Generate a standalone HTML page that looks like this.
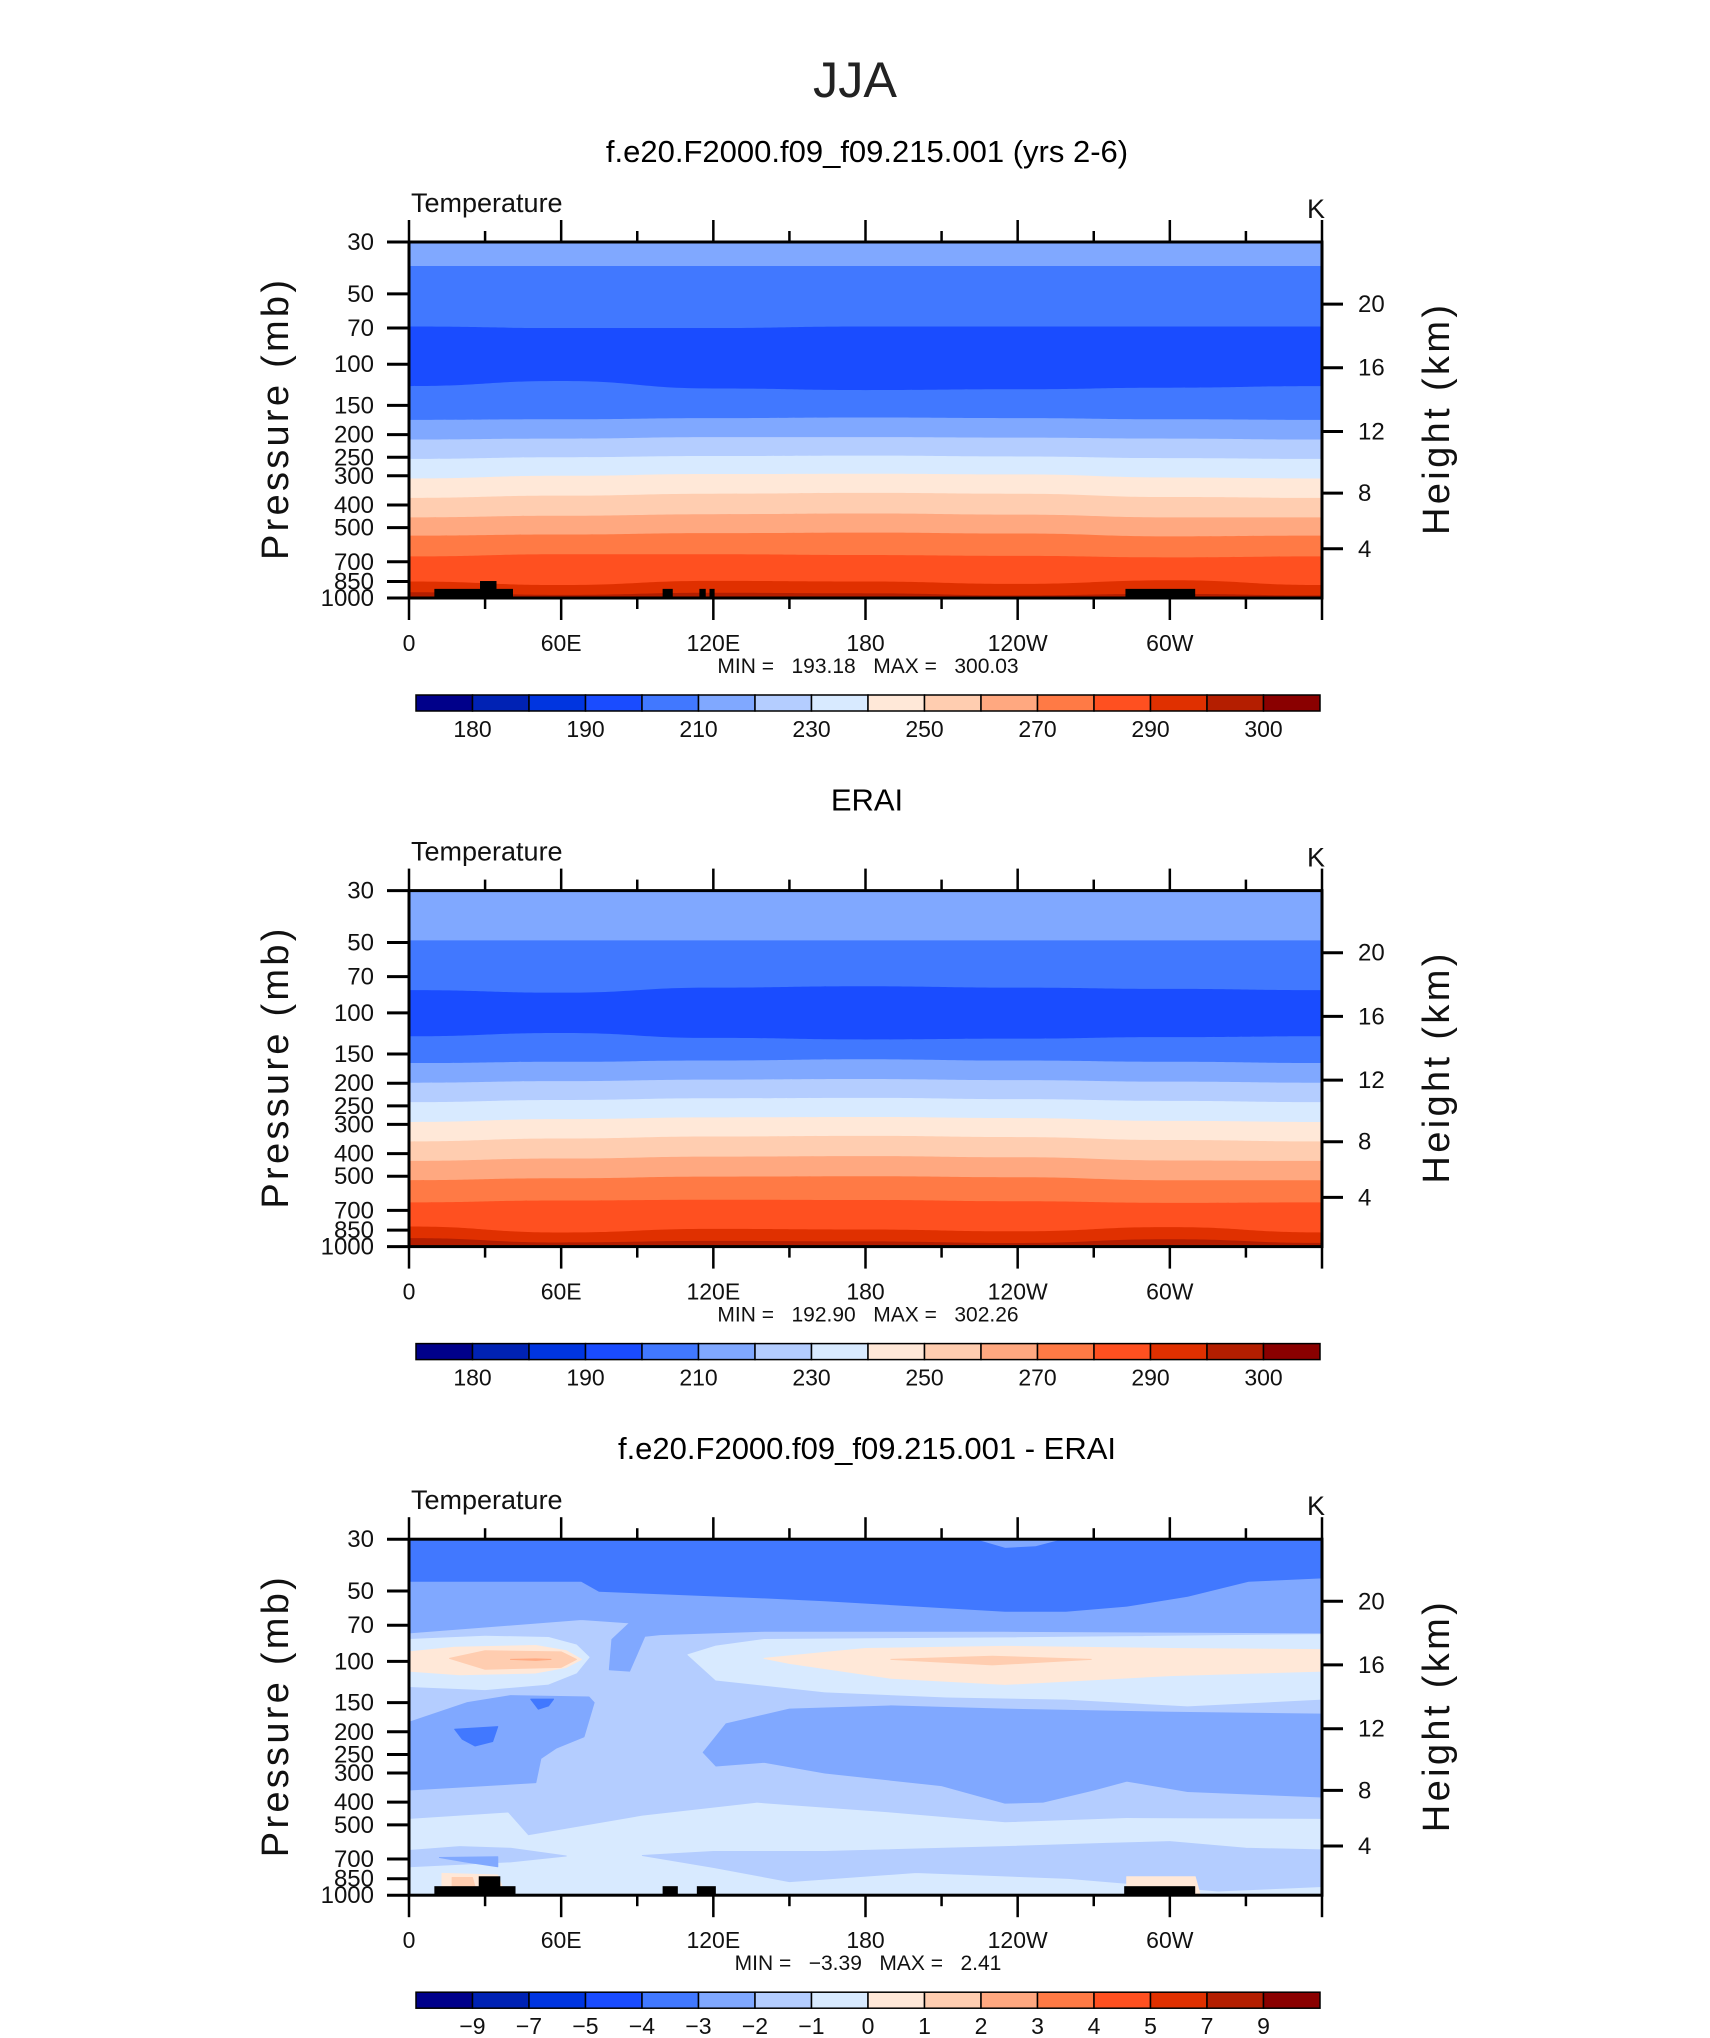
<!DOCTYPE html>
<html><head><meta charset="utf-8"><style>
html,body{margin:0;padding:0;background:#fff;}
svg{display:block;font-family:"Liberation Sans",sans-serif;}
</style></head><body>
<svg id="fig" width="1710" height="2038" viewBox="0 0 1710 2038" xmlns="http://www.w3.org/2000/svg">
<text x="855" y="97" text-anchor="middle" font-size="50" textLength="84" lengthAdjust="spacingAndGlyphs" fill="#222">JJA</text>
</svg>
<script>
// ---- data ----
const colors = ['#00008a','#0022b4','#0035e0','#1a4cff','#4178ff','#80a8ff','#b4cdff','#d8eaff','#ffe8d8','#ffcdb0','#ffa880','#ff7a45','#ff5020','#e03000','#b41e00','#8a0000'];
const tempLevels = ['180','190','210','230','250','270','290','300'];
const diffLevels = ['\u22129','\u22127','\u22125','\u22124','\u22123','\u22122','\u22121','0','1','2','3','4','5','7','9'];
const pressureTicks = [30,50,70,100,150,200,250,300,400,500,700,850,1000];
const heightLabels = [4,8,12,16,20];
const heightPressure = [616,356,194,103.5,55.3];
const lonNodes = [0,60,120,180,240,300,360];
const lonLabels = ['0','60E','120E','180','120W','60W'];
const bandColorIdx = [5,4,3,4,5,6,7,8,9,10,11,12,13,14];
const model_bounds = [
 [38,38,38,38,38,38,38],[69,70,70,69,69,69,69],[124,118,127,129,128,126,124],
 [173,172,170,169,170,172,173],[210,208,205,205,206,208,210],[254,250,247,246,248,252,254],
 [308,300,295,294,296,305,308],[373,365,358,355,358,370,373],[452,445,438,435,440,452,452],
 [541,535,528,525,530,545,541],[664,650,650,655,660,670,664],[850,880,845,850,870,840,880],
 [945,970,950,955,975,960,975]];
const erai_bounds = [
 [49,49,49,49,49,49,49],[80,82,78,77,78,79,80],[126,122,128,130,129,127,126],
 [164,162,160,158,160,162,164],[199,196,193,192,194,197,199],[241,236,232,231,234,238,241],
 [293,285,280,279,282,290,293],[355,345,338,336,340,350,355],[430,420,412,410,415,428,430],
 [520,510,502,500,505,520,520],[647,635,630,632,640,650,647],[820,870,840,845,860,825,870],
 [920,960,945,950,965,930,965]];
const topoModel = [[10,41,914],[28,34.5,846],[100,104,914],[114.5,117,914],[118.5,120.5,914],[282.5,310,914]];
const topoDiff = [[10,42,915],[27.5,36,830],[100,106,915],[113.5,121,915],[282,310,915]];
const diffBaseIdx = 6;
const diffRegions = [
 [5,[[0,30],[360,30],[360,75.5],[235,74.3],[140,74.3],[99,76.8],[93,78],[87,110],[79,108.5],[80,80.6],[87,68.4],[68,66.2],[0,75.5]]],
 [4,[[0,30],[360,30],[360,43.9],[331,45.4],[307,52.6],[283,58],[259,61],[235,61],[164,55],[140,53.5],[75,50.1],[68,45.4],[0,45.4]]],
 [5,[[224,30],[257,30],[247,32],[235,32.5]]],
 [7,[[0,80.6],[30,78],[55,79],[66,85],[71,96],[66,112],[55,125],[30,132],[0,128]]],
 [7,[[110,93.6],[121,86],[140,80.6],[235,79.3],[360,76.8],[360,145],[307,155],[259,145],[212,142],[164,135],[121,120]]],
 [7,[[0,474],[39,445],[47,557],[92,459],[137,404],[190,445],[235,490],[283,470],[360,474],[360,1000],[0,1000]]],
 [8,[[0,91],[18,87],[50,85.5],[62,90],[68,98],[62,106],[50,112],[20,114],[0,110]]],
 [8,[[140,97],[180,88],[235,86.2],[300,88],[360,89],[360,110],[300,115],[235,125.4],[190,118],[150,102]]],
 [9,[[16,97],[30,90],[60,91],[66,98],[60,106],[30,108]]],
 [9,[[190,98],[230,95],[269,98],[230,103.5]]],
 [10,[[40,98],[50,97.5],[56,98],[50,99]]],
 [5,[[0,182],[23,150],[40,140],[71,142],[73,150],[69,210],[58,235],[52,260],[50,330],[0,355]]],
 [5,[[116,245],[125,185],[150,160],[190,155],[235,160],[300,165],[360,168],[360,380],[307,360],[283,325],[270,355],[250,400],[235,404],[210,340],[164,300],[140,270],[121,280]]],
 [4,[[48,145],[57,145],[55,155],[51,160]]],
 [4,[[18,195],[35,190],[33,220],[26,230],[21,215]]],
 [6,[[0,644],[20,620],[40,630],[62,680],[40,720],[0,756]]],
 [6,[[92,676],[120,650],[164,650],[235,620],[275,600],[300,590],[330,630],[360,640],[360,918],[319,960],[260,847],[200,800],[150,875],[120,760]]],
 [5,[[12,690],[35,685],[35,756],[22,720]]],
 [8,[[13,807],[35,820],[38,1000],[13,1000]]],
 [8,[[283,834],[310,834],[312,1000],[283,1000]]],
 [9,[[17,840],[25,840],[27,1000],[17,1000]]]
];
const panelTitles = ['f.e20.F2000.f09_f09.215.001 (yrs 2-6)','ERAI','f.e20.F2000.f09_f09.215.001 - ERAI'];
const panelMin = ['193.18','192.90','\u22123.39'];
const panelMax = ['300.03','302.26','2.41'];

// ---- layout ----
const svg = document.getElementById('fig');
const NS = 'http://www.w3.org/2000/svg';
const L = 409, R = 1322, W = R - L, H = 356, DY = 648.6, TOP0 = 242;
function mk(tag, attrs, parent){ const e = document.createElementNS(NS, tag); for (const k in attrs) e.setAttribute(k, attrs[k]); (parent||svg).appendChild(e); return e; }
function xs(lon){ return L + W * lon / 360; }
function ysF(top){ return p => top + H * Math.log10(p / 30) / Math.log10(1000 / 30); }

function drawPanel(i){
  const top = TOP0 + DY * i, ys = ysF(top);
  const g = mk('g', {});
  
  
  const cp = mk('clipPath', {id: 'clip' + i}, g);
  mk('rect', {x: L, y: top, width: W, height: H}, cp);
  const plot = mk('g', {'clip-path': 'url(#clip' + i + ')'}, g);
  
  
  if (i < 2) {
    const bounds = i === 0 ? model_bounds : erai_bounds;
    const bg = mk('rect', {x: L, y: top, width: W, height: H, fill: colors[bandColorIdx[0]]}, plot);
    
    for (let b = 0; b < bounds.length; b++) {
      let d = 'M' + xs(lonNodes[0]) + ' ' + ys(bounds[b][0]);
      for (let k = 1; k < lonNodes.length; k++) {
        const x0 = xs(lonNodes[k-1]), x1 = xs(lonNodes[k]), y0 = ys(bounds[b][k-1]), y1 = ys(bounds[b][k]);
        d += ' C' + (x0 + (x1-x0)/2) + ' ' + y0 + ' ' + (x0 + (x1-x0)/2) + ' ' + y1 + ' ' + x1 + ' ' + y1;
      }
      d += ' L' + R + ' ' + (top + H + 5) + ' L' + L + ' ' + (top + H + 5) + 'Z';
      const p = mk('path', {d: d, fill: colors[bandColorIdx[b+1]]}, plot);
      
      
    }
  } else {
    const bg = mk('rect', {x: L, y: top, width: W, height: H, fill: colors[diffBaseIdx]}, plot);
    
    diffRegions.forEach(r => {
      const pts = r[1].map(q => xs(q[0]) + ',' + ys(q[1])).join(' ');
      const p = mk('polygon', {points: pts, fill: colors[r[0]], stroke: colors[r[0]], 'stroke-width': 1, 'stroke-linejoin': 'round'}, plot);
      
      
    });
  }
  const topo = i === 0 ? topoModel : (i === 2 ? topoDiff : []);
  topo.forEach(t => {
    const r = mk('rect', {x: xs(t[0]), y: ys(t[2]), width: xs(t[1]) - xs(t[0]), height: top + H - ys(t[2]), fill: '#000'}, plot);
    
    
  });
  const fr = mk('rect', {x: L, y: top, width: W, height: H, fill: 'none', stroke: '#000', 'stroke-width': 3}, g);
  
  
  for (let lon = 0; lon <= 360; lon += 30) {
    const major = lon % 60 === 0, len = major ? 22 : 11;
    mk('line', {x1: xs(lon), x2: xs(lon), y1: top, y2: top - len, stroke: '#000', 'stroke-width': 2.5}, g);
    mk('line', {x1: xs(lon), x2: xs(lon), y1: top + H, y2: top + H + len, stroke: '#000', 'stroke-width': 2.5}, g);
  }
  lonLabels.forEach((lab, k) => {
    const t = mk('text', {x: xs(lonNodes[k]), y: top + H + 53, 'text-anchor': 'middle', 'font-size': 23, fill: '#111'}, g);
    t.textContent = lab;
    
    
  });
  pressureTicks.forEach(p => {
    mk('line', {x1: L - 22, x2: L, y1: ys(p), y2: ys(p), stroke: '#000', 'stroke-width': 3}, g);
    const t = mk('text', {x: 374, y: ys(p) + 8, 'text-anchor': 'end', 'font-size': 24, fill: '#111'}, g);
    t.textContent = p;
    
    
  });
  heightLabels.forEach((h, k) => {
    const y = ys(heightPressure[k]);
    mk('line', {x1: R, x2: R + 21, y1: y, y2: y, stroke: '#000', 'stroke-width': 3}, g);
    const t = mk('text', {x: 1358, y: y + 8, 'font-size': 24, fill: '#111'}, g);
    t.textContent = h;
    
    
  });
  const yt = mk('text', {x: 0, y: 0, transform: 'translate(288,' + (top + 178) + ') rotate(-90)', 'text-anchor': 'middle', 'font-size': 38, textLength: 280, lengthAdjust: 'spacing', fill: '#111'}, g);
  yt.textContent = 'Pressure (mb)';
  
  
  const ht = mk('text', {x: 0, y: 0, transform: 'translate(1449,' + (top + 178) + ') rotate(-90)', 'text-anchor': 'middle', 'font-size': 38, textLength: 230, lengthAdjust: 'spacing', fill: '#111'}, g);
  ht.textContent = 'Height (km)';
  
  
  const tt = mk('text', {x: 867, y: top - 80, 'text-anchor': 'middle', 'font-size': 31, fill: '#000'}, g);
  tt.textContent = panelTitles[i];
  
  
  const vt = mk('text', {x: 411, y: top - 30, 'font-size': 27, fill: '#111'}, g);
  vt.textContent = 'Temperature';
  
  
  const kt = mk('text', {x: 1316, y: top - 24, 'text-anchor': 'middle', 'font-size': 27, fill: '#111'}, g);
  kt.textContent = 'K';
  
  
  const sp = '\u00a0';
  const mm = mk('text', {x: 868, y: top + H + 75, 'text-anchor': 'middle', 'font-size': 21, fill: '#111'}, g);
  mm.textContent = 'MIN' + sp + '=' + sp + sp + sp + panelMin[i] + sp + sp + sp + 'MAX' + sp + '=' + sp + sp + sp + panelMax[i];
  
  
  const cb = mk('g', {}, g);
  
  
  const cbTop = top + 453, cbL = 416, cbW = 904 / 16;
  colors.forEach((c, k) => {
    const r = mk('rect', {x: cbL + k * cbW, y: cbTop, width: cbW, height: 16, fill: c, stroke: '#000', 'stroke-width': 1.5}, cb);
    
    
  });
  const labs = i < 2 ? tempLevels : diffLevels, step = i < 2 ? 2 : 1;
  labs.forEach((lab, k) => {
    const t = mk('text', {x: cbL + (1 + k * step) * cbW, y: cbTop + 42, 'text-anchor': 'middle', 'font-size': 23, fill: '#111'}, cb);
    t.textContent = lab;
    
    
  });
}
[0,1,2].forEach(drawPanel);
</script>
</body></html>
